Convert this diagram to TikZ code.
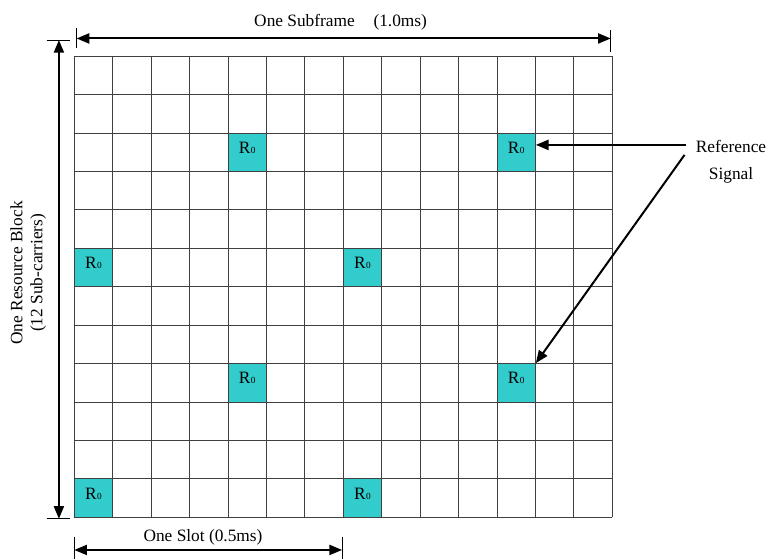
\documentclass[tikz,border=0pt]{standalone}
\usepackage{fontspec}
\setmainfont{Liberation Serif}
\usetikzlibrary{arrows.meta}
\definecolor{rscyan}{RGB}{51,204,204}
\tikzset{
  rsig/.style={draw=black!80, fill=rscyan, line width=0.6pt, minimum size=28.82pt,
    inner sep=0pt, text height=8.6pt, text depth=6.8pt},
  gridline/.style={draw=black!75, line width=0.6pt},
  dimline/.style={line width=1.5pt, <->},
  sigarrow/.style={line width=1.5pt, ->},
  endbar/.style={line width=0.7pt}
}
\begin{document}
\begin{tikzpicture}[x=28.82pt, y=28.82pt, line join=round,
    >={Triangle[length=9.5pt,width=7.5pt]}, font=\fontsize{13}{15}\selectfont]
\useasboundingbox (-1.933,-1.085) rectangle (18.0,13.461);
% resource block with the reference signal cells
\foreach \c/\r in {4/9,11/9,0/6,7/6,4/3,11/3,0/0,7/0}
  \node[rsig] (r\c-\r) at (\c+0.5,\r+0.5) {R\kern0.3pt{\fontsize{7}{8}\selectfont 0}};
\draw[gridline, step=1] (0,0) grid (14,12);
% one subframe
\coordinate (sfL) at (0.06,12.46);
\coordinate (sfR) at (13.96,12.46);
\draw[endbar] (0.06,12.2) -- (0.06,12.72) (13.96,12.12) -- (13.96,12.68);
\draw[dimline] (sfL) -- (sfR);
\node[anchor=base] (subframe) at (6.93,12.78) {One Subframe\hspace{14pt}(1.0ms)};
% one resource block
\coordinate (rbT) at (-0.40,12.42);
\coordinate (rbB) at (-0.40,-0.04);
\draw[endbar] (-0.72,12.42) -- (-0.11,12.42) (-0.72,-0.04) -- (-0.11,-0.04);
\draw[dimline] (rbT) -- (rbB);
\node[rotate=90, align=center, font=\fontsize{13}{15}\selectfont] (block) at (-1.20,6.36)
  {One Resource Block\\(12 Sub-carriers)};
% one slot
\coordinate (slL) at (0,-0.85);
\coordinate (slR) at (6.97,-0.85);
\draw[endbar] (0,-0.50) -- (0,-1.09) (6.97,-0.50) -- (6.97,-1.09);
\draw[dimline] (slL) -- (slR);
\node[anchor=base] (slot) at (3.35,-0.62) {One Slot (0.5ms)};
% reference signal
\node[align=center, font=\fontsize{13}{20}\selectfont] (refsig) at (17.09,9.245) {Reference\\Signal};
\coordinate (refA) at (15.91,9.69);
\coordinate (refB) at (15.88,9.43);
\draw[sigarrow] (refA) -- (refA -| r11-9.east);
\draw[sigarrow] (refB) -- (r11-3.north east);
\end{tikzpicture}
\end{document}
